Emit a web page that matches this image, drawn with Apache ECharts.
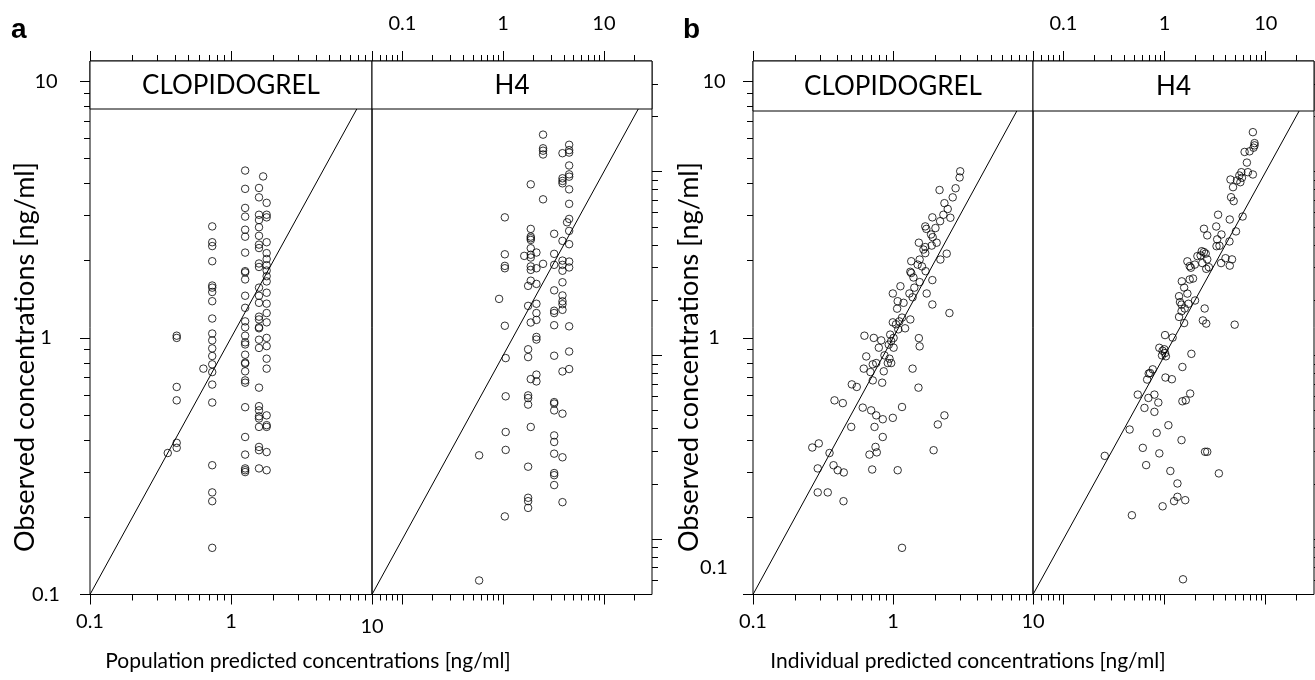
<!DOCTYPE html>
<html><head><meta charset="utf-8">
<script src="https://cdn.jsdelivr.net/npm/echarts@6/dist/echarts.min.js"></script>
<style>html,body{margin:0;padding:0;background:#fff}#c{width:1315px;height:680px}</style>
</head><body><div id="c"></div>
<script>
// ===== DATA =====
const stripNames = ['CLOPIDOGREL', 'H4'];
const panelLetters = ['a', 'b'];
const xTitles = ['Population predicted concentrations [ng/ml]', 'Individual predicted concentrations [ng/ml]'];
const yTitle = 'Observed concentrations [ng/ml]';

// tick values
const clopMajorTicks = [0.1, 1, 10];
const clopMinorTicks = [0.2, 0.3, 0.4, 0.5, 0.6, 0.7, 0.8, 0.9, 2, 3, 4, 5, 6, 7, 8, 9];
const clopTickLabels = [0.1, 1, 10];
const h4MajorTicks = [0.1, 1, 10];
const h4XMinorTicks = [0.05, 0.06, 0.07, 0.08, 0.09, 0.2, 0.3, 0.4, 0.5, 0.6, 0.7, 0.8, 0.9, 2, 3, 4, 5, 6, 7, 8, 9, 20];
const h4YMinorTicks = [0.06, 0.07, 0.08, 0.09, 0.2, 0.3, 0.4, 0.5, 0.6, 0.7, 0.8, 0.9, 2, 3, 4, 5, 6, 7, 8, 9, 20, 30];
const h4TickLabels = [0.1, 1, 10];

// axis ranges
const clopRange = {xmin: 0.1, xmax: 10, ymin: 0.1, ymax: 12};
const h4Range = {xmin: 0.05, xmax: 30, ymin: 0.05, ymax: 40};

// identity lines
const clopIdentity = [[0.1, 0.1], [10, 10]];
const h4Identity = [[0.05, 0.05], [30, 30]];

// panel a, CLOPIDOGREL: [population predicted, observed]
const clopPop = [
 [0.412,1.02],[0.412,1.00],[0.412,0.644],[0.412,0.571],[0.412,0.390],[0.412,0.373],
 [0.356,0.356],[0.637,0.759],
 [0.736,2.72],[0.736,2.36],[0.736,2.28],[0.736,1.99],[0.736,1.60],[0.736,1.57],[0.736,1.51],[0.736,1.39],[0.736,1.19],[0.736,1.04],[0.736,0.978],[0.736,0.910],[0.736,0.850],[0.736,0.789],[0.736,0.736],[0.736,0.658],[0.736,0.560],[0.736,0.319],[0.736,0.250],[0.736,0.231],[0.736,0.152],
 [1.26,4.49],[1.26,3.81],[1.26,3.21],[1.26,2.97],[1.26,2.64],[1.26,2.48],[1.26,2.15],[1.26,1.82],[1.26,1.80],[1.26,1.69],[1.26,1.46],[1.26,1.31],[1.26,1.16],[1.26,1.10],[1.26,1.02],[1.26,0.961],[1.26,0.943],[1.26,0.860],[1.26,0.801],[1.26,0.794],[1.26,0.741],[1.26,0.683],[1.26,0.669],[1.26,0.537],[1.26,0.411],[1.26,0.351],[1.26,0.310],[1.26,0.305],[1.26,0.300],
 [1.58,3.84],[1.58,3.53],[1.58,3.02],[1.58,2.88],[1.58,2.70],[1.58,2.50],[1.58,2.31],[1.58,2.24],[1.58,1.95],[1.58,1.89],[1.58,1.57],[1.58,1.46],[1.58,1.37],[1.58,1.21],[1.58,1.18],[1.58,1.10],[1.58,1.09],[1.58,0.984],[1.58,0.914],[1.58,0.640],[1.58,0.542],[1.58,0.522],[1.58,0.495],[1.58,0.485],[1.58,0.450],[1.58,0.376],[1.58,0.365],[1.58,0.310],
 [1.69,4.26],
 [1.79,3.36],[1.79,3.02],[1.79,2.95],[1.79,2.36],[1.79,2.14],[1.79,2.03],[1.79,1.92],[1.79,1.83],[1.79,1.74],[1.79,1.66],[1.79,1.50],[1.79,1.36],[1.79,1.25],[1.79,1.15],[1.79,1.00],[1.79,0.929],[1.79,0.830],[1.79,0.759],[1.79,0.499],[1.79,0.457],[1.79,0.450],[1.79,0.359],[1.79,0.305]
];

// panel a, H4: [population predicted, observed]
const h4Pop = [
 [0.578,0.286],[0.578,0.0596],[0.912,2.03],
 [1.04,5.64],[1.04,3.55],[1.04,3.07],[1.04,2.98],[1.04,1.45],[1.04,0.133],
 [1.06,0.967],[1.06,0.599],[1.06,0.383],[1.06,0.306],
 [1.62,3.48],
 [1.77,2.39],[1.77,1.86],[1.77,1.08],[1.77,0.979],[1.77,0.606],[1.77,0.586],[1.77,0.540],[1.77,0.248],[1.77,0.168],[1.77,0.161],[1.77,0.148],
 [1.88,8.53],[1.88,4.88],[1.88,4.43],[1.88,4.34],[1.88,4.25],[1.88,3.83],[1.88,3.53],[1.88,3.41],[1.88,3.05],[1.88,2.92],[1.88,2.55],[1.88,1.51],[1.88,0.743],[1.88,0.408],
 [2.14,3.63],[2.14,2.98],[2.14,2.45],[2.14,1.91],[2.14,1.70],[2.14,1.56],[2.14,1.26],[2.14,1.22],[2.14,0.786],[2.14,0.722],
 [2.49,15.9],[2.49,13.4],[2.49,13.0],[2.49,12.4],[2.49,7.07],[2.49,3.15],
 [3.21,4.59],[3.21,3.57],[3.21,3.11],[3.21,2.26],[3.21,1.75],[3.21,1.70],[3.21,1.46],[3.21,0.996],[3.21,0.557],[3.21,0.547],[3.21,0.502],[3.21,0.367],[3.21,0.338],[3.21,0.292],[3.21,0.229],[3.21,0.223],[3.21,0.197],
 [3.88,12.6],[3.88,9.20],[3.88,8.90],[3.88,8.64],[3.88,4.20],[3.88,3.28],[3.88,3.11],[3.88,2.89],[3.88,2.50],[3.88,2.12],[3.88,1.97],[3.88,1.90],[3.88,1.77],[3.88,0.818],[3.88,0.482],[3.88,0.279],[3.88,0.159],
 [4.31,5.30],
 [4.52,14.0],[4.52,13.1],[4.52,12.7],[4.52,10.8],[4.52,9.67],[4.52,9.39],[4.52,8.01],[4.52,6.68],[4.52,5.53],[4.52,4.76],[4.52,4.03],[4.52,3.24],[4.52,3.01],[4.52,1.44],[4.52,1.05],[4.52,0.843]
];

// panel b, CLOPIDOGREL: [individual predicted, observed]
const clopInd = [
 [3.02,4.46],[2.99,4.22],[2.15,3.77],[2.80,3.83],[2.67,3.53],[2.33,3.35],[2.46,3.18],[2.29,3.02],[2.57,2.94],[1.91,2.95],
 [2.17,2.85],[2.01,2.68],[1.70,2.72],[1.73,2.66],[1.87,2.53],[1.92,2.47],[2.05,2.35],[1.89,2.29],[1.53,2.35],[1.70,2.26],
 [1.65,2.21],[1.70,2.14],[2.42,2.13],[2.18,2.02],[1.35,1.99],[1.55,2.02],[1.50,1.93],[1.61,1.90],[1.33,1.81],[1.35,1.79],
 [1.71,1.82],[1.40,1.72],[1.55,1.65],[1.91,1.68],[1.13,1.59],[0.997,1.49],[1.42,1.57],[1.31,1.49],[1.38,1.44],[1.74,1.49],
 [1.08,1.39],[1.19,1.37],[1.07,1.30],[1.91,1.35],[2.53,1.25],[1.16,1.20],[1.11,1.16],[0.997,1.15],[1.05,1.13],[1.33,1.18],
 [1.22,1.09],[1.09,1.08],[0.625,1.02],[0.729,1.00],[0.824,0.978],[0.955,1.03],[1.01,1.00],[0.971,0.972],[0.933,0.941],[1.01,0.916],
 [0.792,0.916],[1.53,0.998],[1.55,0.927],[0.644,0.847],[0.759,0.798],[0.717,0.789],[0.869,0.855],[0.918,0.798],[0.971,0.798],[0.944,0.830],
 [0.618,0.759],[0.690,0.736],[0.859,0.741],[0.717,0.683],[0.837,0.669],[1.38,0.759],[1.52,0.640],[0.508,0.659],[0.551,0.644],[0.382,0.571],
 [0.438,0.557],[0.608,0.535],[0.698,0.522],[0.759,0.499],[0.845,0.482],[0.997,0.488],[1.16,0.538],[0.503,0.450],[0.738,0.450],[0.845,0.411],
 [2.33,0.499],[2.09,0.460],[1.95,0.365],[0.265,0.374],[0.295,0.388],[0.352,0.356],[0.750,0.376],[0.679,0.351],[0.766,0.358],[0.290,0.310],
 [0.376,0.319],[0.403,0.305],[0.445,0.299],[0.710,0.307],[1.08,0.305],[0.290,0.250],[0.342,0.250],[0.443,0.231],[1.16,0.152]
];

// panel b, H4: [individual predicted, observed]
const h4Ind = [
 [7.46,16.4],[7.75,14.3],[7.75,13.9],[7.57,13.5],[6.18,12.8],[6.92,12.9],[6.51,11.2],[5.74,9.93],[6.66,9.93],[7.46,9.65],
 [5.48,9.53],[5.82,9.26],[4.48,9.06],[5.20,8.95],[5.61,8.76],[4.75,8.23],[4.54,7.26],[4.82,6.91],[3.38,5.83],[4.41,5.49],
 [5.91,5.70],[2.45,4.89],[3.24,5.03],[2.64,4.50],[3.65,4.55],[5.08,4.73],[3.31,4.28],[3.26,3.93],[3.49,3.95],[4.38,4.17],
 [2.33,3.69],[2.45,3.65],[2.55,3.58],[2.27,3.50],[2.11,3.47],[2.64,3.33],[4.00,3.38],[4.64,3.33],[3.62,3.18],[4.41,3.08],
 [1.68,3.25],[1.77,3.06],[1.82,3.00],[1.99,3.12],[2.36,3.18],[2.58,2.96],[2.74,3.02],[1.48,2.53],[1.77,2.59],[1.91,2.62],
 [1.56,2.34],[1.68,2.17],[1.39,2.10],[1.42,1.95],[1.47,1.89],[1.72,1.91],[2.00,1.99],[1.58,1.80],[1.47,1.74],[1.39,1.62],
 [1.56,1.50],[2.49,1.80],[2.39,1.55],[2.58,1.49],[4.93,1.47],[1.01,1.29],[1.20,1.25],[0.887,1.10],[0.993,1.08],[0.956,1.06],
 [1.01,1.03],[0.943,1.00],[1.03,0.989],[1.84,1.02],[1.50,0.865],[0.763,0.840],[0.719,0.802],[0.697,0.797],[0.672,0.739],[1.02,0.758],
 [1.18,0.742],[0.543,0.612],[0.692,0.587],[0.793,0.612],[0.867,0.554],[0.632,0.518],[0.793,0.493],[1.50,0.563],[1.62,0.570],[1.79,0.620],
 [1.09,0.417],[0.451,0.395],[0.835,0.379],[1.47,0.346],[0.609,0.314],[0.887,0.293],[2.51,0.299],[2.64,0.299],[0.256,0.284],[0.657,0.253],
 [1.14,0.235],[3.44,0.228],[1.34,0.201],[1.34,0.170],[1.24,0.161],[1.60,0.163],[0.956,0.151],[0.475,0.135],[1.52,0.0605]
];

// ===== LAYOUT / STYLE =====
const INK = '#000';
const FONT = 'Lato, "Open Sans", sans-serif';
const TICK_FS = 20;
const TOP = 61, HEIGHT = 533.5;
const panels = [
  {left: 90,   width: 282, kind: 'clop', data: clopPop, strip: 0, stripH: 48, letter: 0, yMargin: 44},
  {left: 372,  width: 280, kind: 'h4',   data: h4Pop,   strip: 1, stripH: 48},
  {left: 753,  width: 280, kind: 'clop', data: clopInd, strip: 0, stripH: 50, letter: 1, yMargin: 39},
  {left: 1033, width: 281, kind: 'h4',   data: h4Ind,   strip: 1, stripH: 50}
];

const grid = [], xAxis = [], yAxis = [], series = [], graphic = [];

function tickAxis(base, ticks, len) {
  return Object.assign({}, base, {
    axisLine: {show: false},
    axisTick: {show: true, inside: false, length: len, customValues: ticks, lineStyle: {color: INK, width: 1}},
    axisLabel: {show: false},
    splitLine: {show: false}
  });
}

panels.forEach((p, g) => {
  const isClop = p.kind === 'clop';
  const r = isClop ? clopRange : h4Range;
  grid.push({left: p.left, top: TOP, width: p.width, height: HEIGHT, show: true,
             borderColor: INK, borderWidth: 1, backgroundColor: 'rgba(0,0,0,0)', outerBoundsMode: 'none'});
  const xb = {gridIndex: g, type: 'log', logBase: 10, min: r.xmin, max: r.xmax};
  const yb = {gridIndex: g, type: 'log', logBase: 10, min: r.ymin, max: r.ymax};
  const labelPos = isClop ? 'bottom' : 'top';
  const xMajor = isClop ? clopMajorTicks : h4MajorTicks;
  const xMinor = isClop ? clopMinorTicks : h4XMinorTicks;
  const yMinor = isClop ? clopMinorTicks : h4YMinorTicks;
  const ySide = isClop ? 'left' : 'right';
  const lowTen = isClop && p.letter === 0;

  const xi = xAxis.length;
  const xLab = tickAxis(Object.assign({position: labelPos}, xb), xMajor, 10);
  xLab.axisLabel = {
    show: true, customValues: isClop ? clopTickLabels : h4TickLabels,
    margin: isClop ? 17 : 27, color: INK, fontFamily: FONT, fontSize: TICK_FS,
    formatter: v => (lowTen && v === 10) ? '{low|10}' : String(v),
    rich: {low: {fontFamily: FONT, fontSize: TICK_FS, color: INK, padding: [5, 0, 0, 0]}}
  };
  xAxis.push(xLab);
  xAxis.push(tickAxis(Object.assign({position: labelPos}, xb), xMinor, 6));
  const other = isClop ? 'top' : 'bottom';
  xAxis.push(tickAxis(Object.assign({position: other}, xb), xMajor, 10));
  xAxis.push(tickAxis(Object.assign({position: other}, xb), xMinor, 6));

  const yi = yAxis.length;
  const yMaj = tickAxis(Object.assign({position: ySide}, yb), isClop ? clopMajorTicks : h4MajorTicks, 10);
  if (isClop) {
    const shiftUp = p.letter === 1;
    yMaj.axisLabel = {
      show: true, customValues: clopTickLabels, margin: p.yMargin, align: 'center',
      color: INK, fontFamily: FONT, fontSize: TICK_FS,
      formatter: v => (shiftUp && v === 0.1) ? '{up|0.1}' : String(v),
      rich: {up: {fontFamily: FONT, fontSize: TICK_FS, color: INK, align: 'center', padding: [0, 0, 54, 0]}}
    };
  }
  yAxis.push(yMaj);
  yAxis.push(tickAxis(Object.assign({position: ySide}, yb), yMinor, 6));

  series.push({
    type: 'line', xAxisIndex: xi, yAxisIndex: yi, data: isClop ? clopIdentity : h4Identity,
    showSymbol: false, symbol: 'none', lineStyle: {color: INK, width: 1}, silent: true, z: 2, clip: true
  });
  series.push({
    type: 'scatter', xAxisIndex: xi, yAxisIndex: yi, data: p.data, symbol: 'circle', symbolSize: 7.5,
    itemStyle: {color: 'rgba(0,0,0,0)', borderColor: INK, borderWidth: 1}, silent: true, z: 3
  });

  graphic.push({type: 'rect', z: 100, shape: {x: p.left, y: TOP, width: p.width, height: p.stripH},
                style: {fill: '#fff', stroke: INK, lineWidth: 1}});
  graphic.push({type: 'text', z: 101, x: p.left + p.width / 2, y: TOP + p.stripH / 2 + 1,
                style: {text: stripNames[p.strip], font: '26px ' + FONT, fill: INK, textAlign: 'center', textVerticalAlign: 'middle'}});
});

const letterPos = [[11, 30], [683, 30]];
const xTitlePos = [[308, 661], [968, 661]];
const yTitlePos = [[25, 357], [689, 357]];
[0, 1].forEach(i => {
  graphic.push({type: 'text', z: 101, x: letterPos[i][0], y: letterPos[i][1],
    style: {text: panelLetters[i], font: 'bold 28px "Liberation Sans", Arial, sans-serif', fill: INK, textVerticalAlign: 'middle'}});
  graphic.push({type: 'text', z: 101, x: xTitlePos[i][0], y: xTitlePos[i][1],
    style: {text: xTitles[i], font: '21px ' + FONT, fill: INK, textAlign: 'center', textVerticalAlign: 'middle'}});
  graphic.push({type: 'text', z: 101, x: yTitlePos[i][0], y: yTitlePos[i][1], rotation: Math.PI / 2,
    style: {text: yTitle, font: '27px ' + FONT, fill: INK, textAlign: 'center', textVerticalAlign: 'middle'}});
});

const chart = echarts.init(document.getElementById('c'), null, {renderer: 'canvas', width: 1315, height: 680});
chart.setOption({animation: false, backgroundColor: '#fff', grid, xAxis, yAxis, series, graphic});
</script></body></html>
